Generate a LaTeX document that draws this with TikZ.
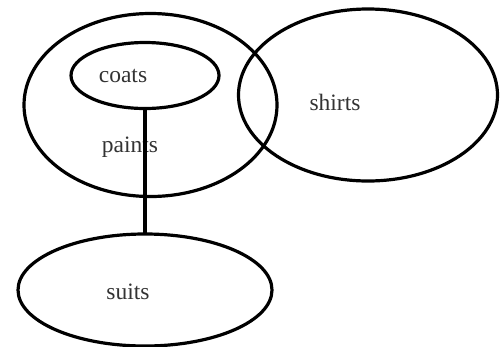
\documentclass[tikz,border=0pt]{standalone}
\usepackage{fontspec}
\setmainfont{Liberation Serif}
\usetikzlibrary{shapes.geometric}
\begin{document}
\begin{tikzpicture}[x=1pt,y=-1pt,
  setbox/.style={draw=black, ellipse, line width=3.2pt, inner sep=0pt, outer sep=0pt},
  lbl/.style={font=\fontsize{23.5}{26}\selectfont, text=black!80, inner sep=0pt}]
\useasboundingbox (0,0) rectangle (500,346);
\node[setbox, minimum width=253, minimum height=183] (pants) at (150.5,105) {};
\node[setbox, minimum width=148, minimum height=66] (coats) at (145,75.5) {};
\node[setbox, minimum width=259, minimum height=172] (shirts) at (368,95) {};
\node[setbox, minimum width=254, minimum height=112] (suits) at (145,290) {};
\node[lbl] (tcoats) at (123,76) {coats};
\node[lbl] (tpants) at (130,147) {paints};
\node[lbl] (tshirts) at (335,102) {shirts};
\node[lbl] (tsuits) at (128,292) {suits};
\draw[line width=3.2pt] (coats.south) -- (suits.north);
\end{tikzpicture}
\end{document}
